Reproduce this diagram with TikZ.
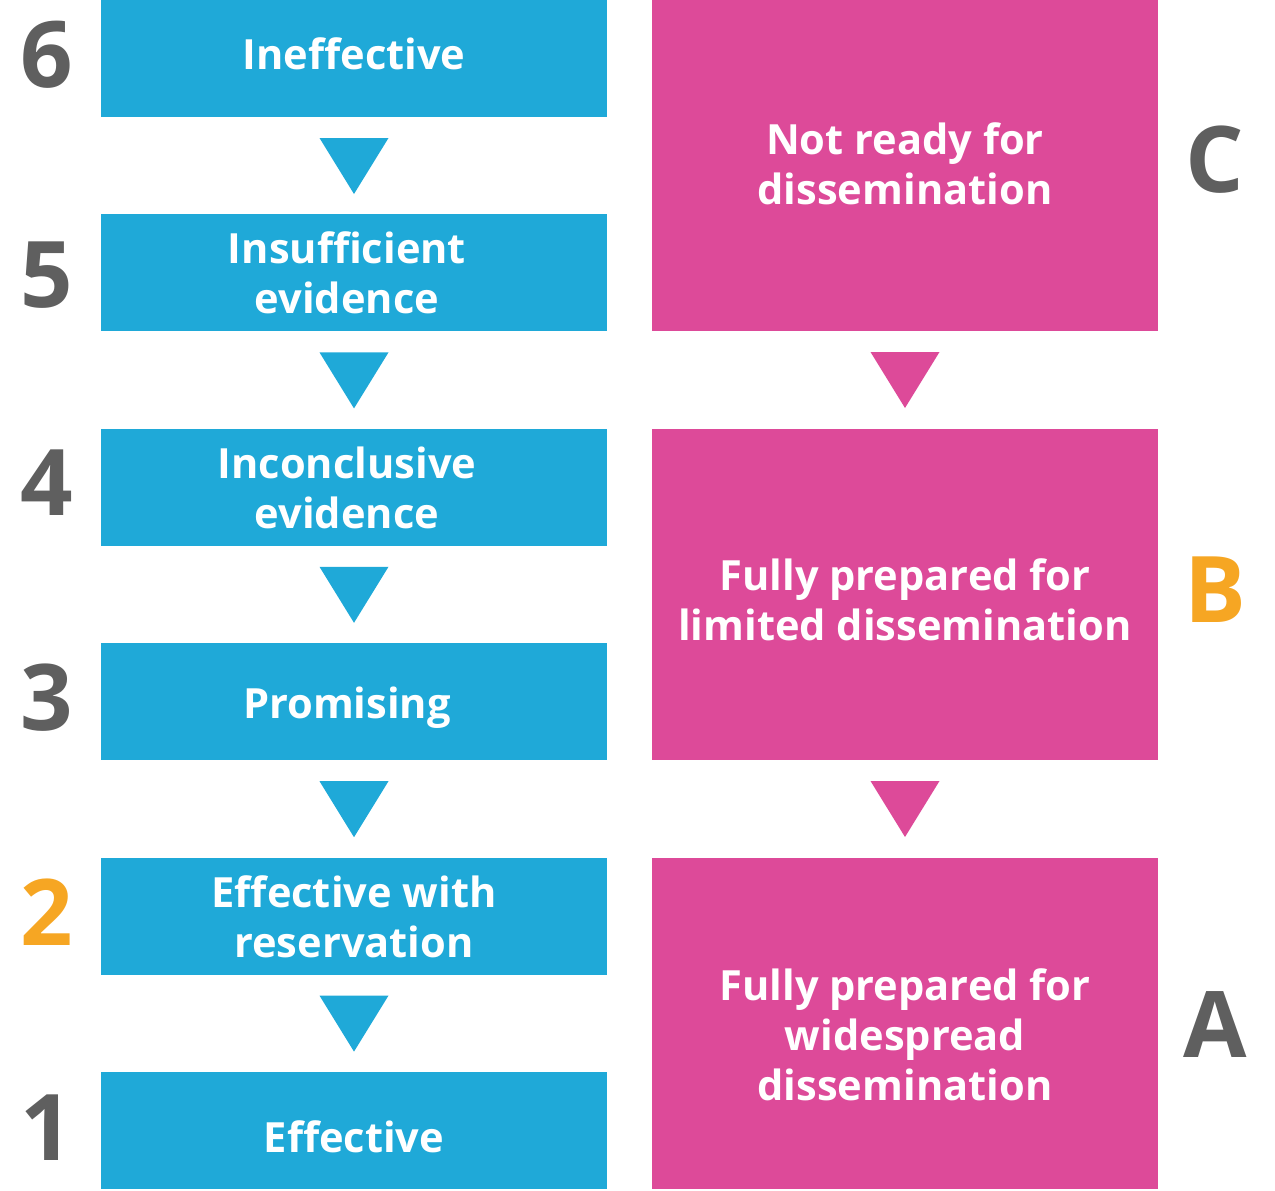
\documentclass[tikz,border=0pt]{standalone}
\usepackage{fontspec}
\setmainfont{Open Sans}
\usepackage{xcolor}
\usepackage{tikz}
\definecolor{evblue}{RGB}{31,169,216}
\definecolor{dispink}{RGB}{221,74,153}
\definecolor{rankgray}{RGB}{95,95,95}
\definecolor{rankorange}{RGB}{246,166,35}

\begin{document}
\begin{tikzpicture}[x=0.5pt, y=-0.5pt,
    lbox/.style={inner sep=0pt, minimum width=253pt, minimum height=58.5pt, fill=evblue},
    rbox/.style={inner sep=0pt, minimum width=253pt, minimum height=165.5pt, fill=dispink},
    boxtext/.style={inner sep=0pt, text=white, align=center,
      font=\fontsize{20.8}{25}\selectfont\bfseries},
    rank/.style={text=rankgray, font=\fontsize{46}{46}\selectfont\bfseries, inner sep=0pt}]
    \useasboundingbox (0,0) rectangle (1275,1190);

    % evidence ratings
    \node[lbox] (l6) at (354,58.5) {};
    \node[lbox] (l5) at (354,272.5) {};
    \node[lbox] (l4) at (354,487.5) {};
    \node[lbox] (l3) at (354,701.5) {};
    \node[lbox] (l2) at (354,916.5) {};
    \node[lbox] (l1) at (354,1130.5) {};
    \node[boxtext] (t6) at (354,53.5) {Ineffective};
    \node[boxtext] (t5) at (347,272.5) {Insufficient\\evidence};
    \node[boxtext] (t4) at (347,487.5) {Inconclusive\\evidence};
    \node[boxtext] (t3) at (347,707.5) {Promising};
    \node[boxtext] (t2) at (354,916.5) {Effective with\\reservation};
    \node[boxtext] (t1) at (354,1136.5) {Effective};

    % readiness for dissemination
    \node[rbox] (rc) at (905,165.5) {};
    \node[rbox] (rb) at (905,594.5) {};
    \node[rbox] (ra) at (905,1023.5) {};
    \node[boxtext] (tc) at (905,163.5) {Not ready for\\dissemination};
    \node[boxtext] (tb) at (905,599.5) {Fully prepared for\\limited dissemination};
    \node[boxtext] (ta) at (905,1034.5) {Fully prepared for\\widespread\\dissemination};

    \node[rank] (n6) at (47,55) {6};
    \node[rank] (n5) at (47,275) {5};
    \node[rank] (n4) at (47,483) {4};
    \node[rank] (n3) at (47,698) {3};
    \node[rank, text=rankorange] (n2) at (47,912) {2};
    \node[rank] (n1) at (47,1128) {1};

    \node[rank] (gc) at (1215,160) {C};
    \node[rank, text=rankorange] (gb) at (1215,590) {B};
    \node[rank] (ga) at (1215,1025) {A};

    \foreach \y in {138,352.4,566.8,781.2,995.6}
      \fill[evblue] (319.5,\y) -- (388.5,\y) -- (354,\y+56) -- cycle;
    \foreach \y in {352,781}
      \fill[dispink] (870.5,\y) -- (939.5,\y) -- (905,\y+56) -- cycle;
  \end{tikzpicture}
\end{document}
